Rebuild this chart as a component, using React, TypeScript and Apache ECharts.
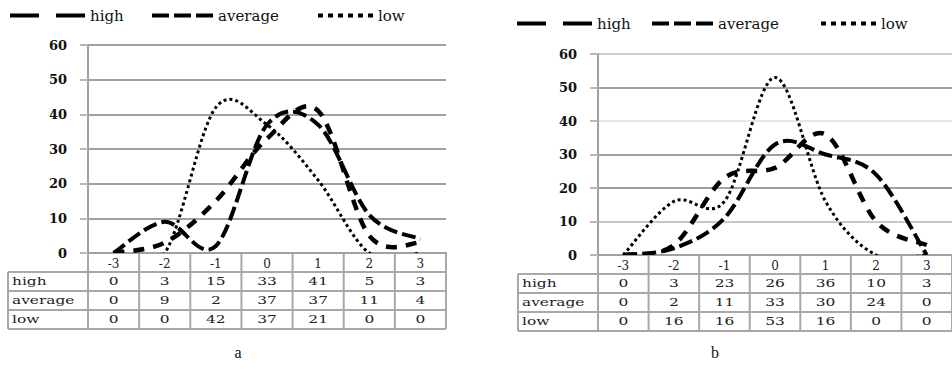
import React, { useEffect, useRef } from "react";
import * as echarts from "echarts";

const categories = ["-3", "-2", "-1", "0", "1", "2", "3"];
const seriesNames = ["high", "average", "low"];
const highA = [0, 3, 15, 33, 41, 5, 3];
const averageA = [0, 9, 2, 37, 37, 11, 4];
const lowA = [0, 0, 42, 37, 21, 0, 0];
const highB = [0, 3, 23, 26, 36, 10, 3];
const averageB = [0, 2, 11, 33, 30, 24, 0];
const lowB = [0, 16, 16, 53, 16, 0, 0];
const yMin = 0;
const yMax = 60;
const yStep = 10;
const captions = ["a", "b"];

const FONT = "DejaVu Serif";
const GRID_GRAY = "#a0a0a0";

const curveStyles = [
  { lineWidth: 4.5, lineDash: [11, 9] },
  { lineWidth: 4, lineDash: [14, 5] },
  { lineWidth: 3, lineDash: [3, 3] },
];

function dashIcon(dash: number, gap: number, count: number, h: number) {
  let d = "path://";
  for (let i = 0; i < count; i++) {
    const x = i * (dash + gap);
    d += `M${x},0h${dash}v${h}h-${dash}z `;
  }
  return d.trim();
}
const legendIcons = [dashIcon(29, 17, 2, 4), dashIcon(17, 5, 3, 4), dashIcon(5, 5, 6, 4)];
const legendIconWidths = [75, 61, 55];

function catmullPath(pts: number[][]) {
  const t = 1 / 6;
  let d = `M${pts[0][0]},${pts[0][1]}`;
  for (let i = 0; i < pts.length - 1; i++) {
    const p0 = pts[Math.max(i - 1, 0)];
    const p1 = pts[i];
    const p2 = pts[i + 1];
    const p3 = pts[Math.min(i + 2, pts.length - 1)];
    const c1x = p1[0] + (p2[0] - p0[0]) * t;
    const c1y = p1[1] + (p2[1] - p0[1]) * t;
    const c2x = p2[0] - (p3[0] - p1[0]) * t;
    const c2y = p2[1] - (p3[1] - p1[1]) * t;
    d += ` C${c1x},${c1y} ${c2x},${c2y} ${p2[0]},${p2[1]}`;
  }
  return d;
}

export default function App() {
  const ref = useRef<HTMLDivElement>(null);
  useEffect(() => {
    if (!ref.current) return;
    const chart = echarts.init(ref.current, undefined, { renderer: "svg" });

    const panels = [
      { data: [highA, averageA, lowA], grid: { left: 88, top: 45, width: 358, height: 208 },
        legendLefts: [10, 152, 318], legendTop: 8,
        splitColors: [GRID_GRAY], tableLeft: 8, captionX: 238 },
      { data: [highB, averageB, lowB], grid: { left: 598, top: 54, width: 360, height: 201 },
        legendLefts: [517, 652, 821], legendTop: 16,
        splitColors: ["#a0a0a0", "#c8c8c8", "#a0a0a0", "#a0a0a0", "#e6e6e6", "#a0a0a0", "#cccccc"],
        tableLeft: 518, captionX: 715 },
    ];

    const legends: any[] = [];
    const series: any[] = [];
    panels.forEach((p, gi) => {
      seriesNames.forEach((name, si) => {
        legends.push({
          data: [name],
          left: p.legendLefts[si],
          top: p.legendTop,
          icon: legendIcons[si],
          itemWidth: legendIconWidths[si],
          itemHeight: 4,
          itemGap: 0,
          padding: 0,
          textStyle: { fontFamily: FONT, fontSize: 15, color: "#111" },
        });
        const values = p.data[si];
        series.push({
          name,
          type: "custom",
          xAxisIndex: gi,
          yAxisIndex: gi,
          clip: true,
          itemStyle: { color: "#000" },
          data: values.map((v, i) => [i, v]),
          renderItem: (params: any, api: any) => {
            if (params.dataIndex !== 0) return { type: "group", children: [] };
            const pts = values.map((v, i) => api.coord([i, v]));
            return {
              type: "path",
              shape: { pathData: catmullPath(pts) },
              style: { stroke: "#000", fill: "none", ...curveStyles[si] },
            };
          },
        });
      });
    });

    chart.setOption({
      animation: false,
      backgroundColor: "#fff",
      legend: legends,
      grid: panels.map((p) => ({ ...p.grid, containLabel: false })),
      xAxis: panels.map((_, gi) => ({
        type: "category",
        gridIndex: gi,
        data: categories,
        boundaryGap: true,
        axisLine: { lineStyle: { color: GRID_GRAY, width: 2 } },
        axisTick: { show: false },
        axisLabel: { fontFamily: FONT, fontSize: 12, color: "#222", margin: 5 },
        splitLine: { show: false },
      })),
      yAxis: panels.map((p, gi) => ({
        type: "value",
        gridIndex: gi,
        min: yMin,
        max: yMax,
        interval: yStep,
        axisLine: { show: true, lineStyle: { color: GRID_GRAY, width: 2 } },
        axisTick: { show: true, length: 8, lineStyle: { color: "#b8b8b8", width: 2 } },
        axisLabel: { fontFamily: FONT, fontWeight: "bold", fontSize: 13, color: "#111", margin: 21 },
        splitLine: { show: true, lineStyle: { color: p.splitColors, width: 2 } },
      })),
      series,
    });

    const graphic: any[] = [];
    panels.forEach((p, gi) => {
      const x0 = chart.convertToPixel({ xAxisIndex: gi } as any, categories[0]) as number;
      const x1 = chart.convertToPixel({ xAxisIndex: gi } as any, categories[1]) as number;
      const cw = x1 - x0;
      const yTop = chart.convertToPixel({ yAxisIndex: gi } as any, yMin) as number;
      const rh = 19;
      const gl = x0 - cw / 2;
      const gr = gl + cw * categories.length;
      const lineStyle = { stroke: "#a8a8a8", lineWidth: 2 };
      for (let k = 1; k <= 4; k++) {
        graphic.push({ type: "line", shape: { x1: p.tableLeft, y1: yTop + k * rh, x2: gr, y2: yTop + k * rh }, style: lineStyle, silent: true });
      }
      for (let c = 0; c <= categories.length; c++) {
        graphic.push({ type: "line", shape: { x1: gl + c * cw, y1: yTop, x2: gl + c * cw, y2: yTop + 4 * rh }, style: lineStyle, silent: true });
      }
      graphic.push({ type: "line", shape: { x1: p.tableLeft, y1: yTop + rh, x2: p.tableLeft, y2: yTop + 4 * rh }, style: lineStyle, silent: true });
      seriesNames.forEach((name, si) => {
        const cy = yTop + (si + 1.5) * rh;
        graphic.push({
          type: "text", x: p.tableLeft + 4, y: cy, scaleX: 1.4, silent: true,
          style: { text: name, fontFamily: FONT, fontSize: 11, fill: "#222", textAlign: "left", textVerticalAlign: "middle" },
        });
        p.data[si].forEach((v, i) => {
          graphic.push({
            type: "text", x: x0 + i * cw, y: cy, scaleX: 1.4, silent: true,
            style: { text: String(v), fontFamily: FONT, fontSize: 11, fill: "#222", textAlign: "center", textVerticalAlign: "middle" },
          });
        });
      });
      graphic.push({
        type: "text", x: p.captionX, y: 352, silent: true,
        style: { text: captions[gi], fontFamily: "Liberation Serif", fontSize: 16, fill: "#111", textAlign: "center", textVerticalAlign: "middle" },
      });
    });
    chart.setOption({ graphic });

    return () => chart.dispose();
  }, []);
  return <div ref={ref} style={{ position: "absolute", left: 0, top: 0, width: 952, height: 369, background: "#fff" }} />;
}
